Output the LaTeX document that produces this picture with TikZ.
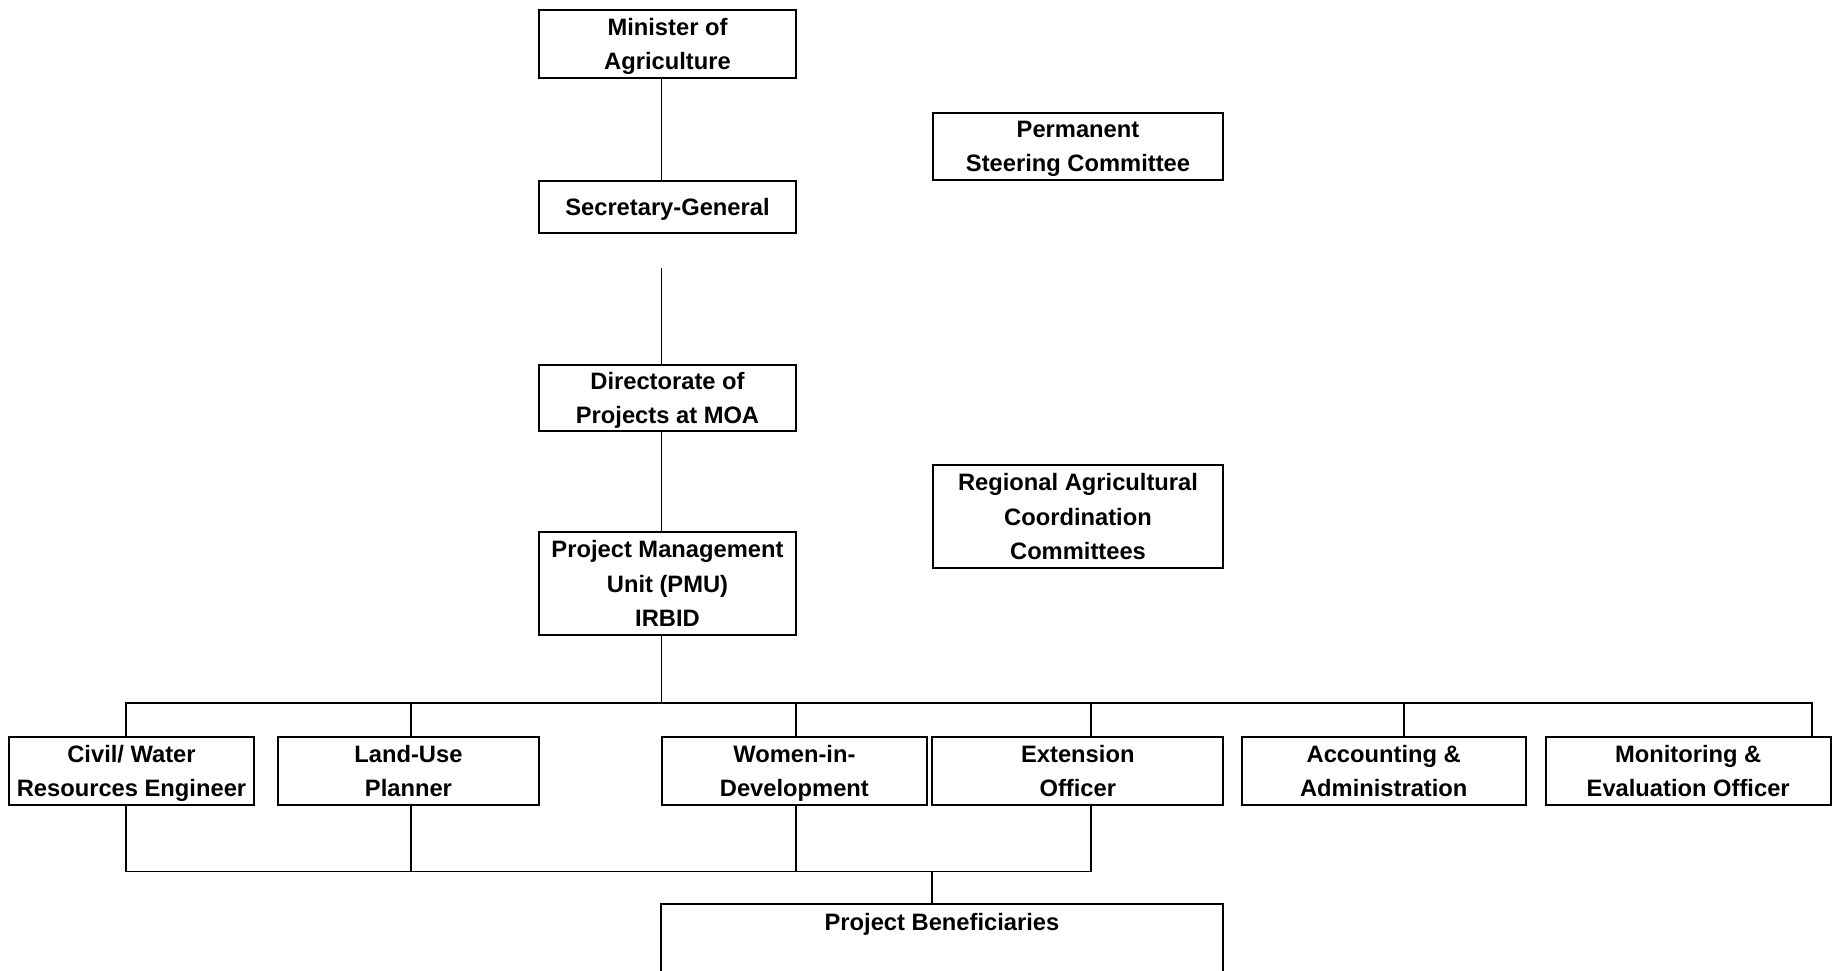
\documentclass[tikz,border=0pt]{standalone}
\usepackage{fontspec}
\setmainfont{Liberation Sans}
\usepackage{tikz}
\usetikzlibrary{positioning, calc}

\begin{document}
\begin{tikzpicture}[
    node distance=2.04cm and 0.38cm,
    box/.style={rectangle, draw=black, line width=1.1pt, inner sep=0pt, minimum width=5.14cm, align=center, text depth=0pt, font=\bfseries\fontsize{13.5}{19.6}\selectfont},
    sidebox/.style={box, minimum width=5.8cm},
    staffbox/.style={box, minimum height=1.36cm},
    link/.style={line width=1.1pt, black},
]
\useasboundingbox (0,0) rectangle (36.64,-19.4);

% === MINISTRY CHAIN ===
\node[box, minimum height=1.35cm] (minister) at (13.35,-0.88) {Minister of\\Agriculture};
\node[box, below=2.02cm of minister, minimum height=1.04cm] (secgen) {Secretary-General};
\node[box, below=2.6cm of secgen, minimum height=1.33cm] (directorate) {Directorate of\\Projects at MOA};
\node[box, below=1.98cm of directorate, minimum height=2.06cm] (pmu) {Project Management\\Unit (PMU)\\IRBID};

% === COMMITTEES ===
\node[sidebox, minimum height=1.34cm] (steering) at (21.56,-2.93) {Permanent\\Steering Committee};
\node[sidebox, below=5.66cm of steering, minimum height=2.06cm] (regional) {Regional Agricultural\\Coordination\\Committees};

% === PMU STAFF ===
\node[staffbox, minimum width=4.9cm] (civil) at (2.63,-15.42) {Civil/ Water\\Resources Engineer};
\node[staffbox, minimum width=5.22cm, right=0.44cm of civil] (landuse) {Land-Use\\Planner};
\node[staffbox, minimum width=5.3cm, right=2.42cm of landuse] (wid) {Women-in-\\Development};
\node[staffbox, minimum width=5.82cm, right=0.07cm of wid] (extension) {Extension\\Officer};
\node[staffbox, minimum width=5.68cm, right=0.33cm of extension] (accounting) {Accounting \&\\Administration};
\node[staffbox, minimum width=5.7cm, right=0.36cm of accounting] (monitoring) {Monitoring \&\\Evaluation Officer};

% === BENEFICIARIES ===
\node[box, minimum width=11.24cm, minimum height=2.4cm, anchor=north,
      label={[anchor=center, yshift=-0.42cm, font=\bfseries\fontsize{13.5}{19.6}\selectfont]north:Project Beneficiaries}] (benef) at (18.84,-18.06) {};

% === CONNECTORS ===
\draw[link] ([xshift=-0.12cm]minister.south) -- ([xshift=-0.12cm]secgen.north);
\draw[link] ([xshift=-0.12cm, yshift=-0.68cm]secgen.south) -- ([xshift=-0.12cm]directorate.north);
\draw[link] ([xshift=-0.12cm]directorate.south) -- ([xshift=-0.12cm]pmu.north);

% PMU to staff
\draw[link] ([xshift=-0.12cm]pmu.south) -- ++(0,-1.34) coordinate (bar);
\draw[link] ([xshift=-0.11cm]civil.north) |- (bar) -| ([xshift=-0.4cm]monitoring.north east);
\draw[link] ([xshift=0.05cm]landuse.north) -- ([xshift=0.05cm]landuse.north |- bar);
\draw[link] ([xshift=0.03cm]wid.north) -- ([xshift=0.03cm]wid.north |- bar);
\draw[link] ([xshift=0.27cm]extension.north) -- ([xshift=0.27cm]extension.north |- bar);
\draw[link] ([xshift=0.4cm]accounting.north) -- ([xshift=0.4cm]accounting.north |- bar);

% Staff to beneficiaries
\draw[link] ([xshift=-0.11cm]civil.south) -- ++(0,-1.31) coordinate (low) -| ([xshift=0.27cm]extension.south);
\draw[link] ([xshift=0.05cm]landuse.south) -- ([xshift=0.05cm]landuse.south |- low);
\draw[link] ([xshift=0.03cm]wid.south) -- ([xshift=0.03cm]wid.south |- low);
\draw[link] ([xshift=-0.2cm]benef.north) -- ([xshift=-0.2cm]benef.north |- low);

\end{tikzpicture}
\end{document}
